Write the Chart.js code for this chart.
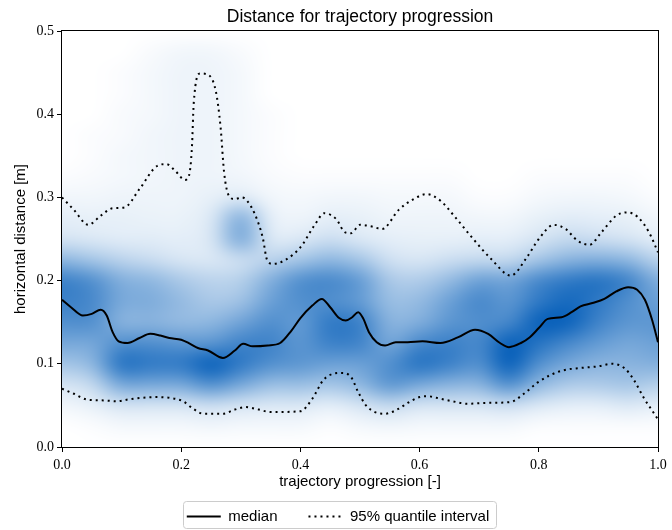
<!DOCTYPE html>
<html>
<head>
<meta charset="utf-8">
<script src="https://cdn.jsdelivr.net/npm/chart.js@4.4.1/dist/chart.umd.min.js"></script>
<style>
  html, body { margin: 0; padding: 0; background: #fff; overflow: hidden; }
  canvas { display: block; }
</style>
</head>
<body>
<canvas id="chart" width="672" height="530"></canvas>
<script>
const xTicks = [0, 0.2, 0.4, 0.6, 0.8, 1.0];
const yTicks = [0, 0.1, 0.2, 0.3, 0.4, 0.5];

// median
const medianX = [0, 0.015, 0.035, 0.05, 0.065, 0.075, 0.085, 0.095, 0.11, 0.13, 0.148, 0.165, 0.18, 0.2, 0.215, 0.228, 0.245, 0.27, 0.29, 0.304, 0.32, 0.345, 0.366, 0.385, 0.4, 0.42, 0.436, 0.45, 0.465, 0.476, 0.487, 0.497, 0.505, 0.515, 0.528, 0.542, 0.56, 0.58, 0.605, 0.635, 0.665, 0.693, 0.715, 0.735, 0.75, 0.77, 0.785, 0.8, 0.815, 0.838, 0.855, 0.87, 0.89, 0.91, 0.93, 0.95, 0.965, 0.978, 0.99, 1.0];
const medianY = [0.177, 0.168, 0.158, 0.16, 0.165, 0.158, 0.138, 0.127, 0.125, 0.131, 0.136, 0.134, 0.131, 0.129, 0.124, 0.119, 0.116, 0.107, 0.116, 0.124, 0.121, 0.122, 0.125, 0.14, 0.155, 0.17, 0.178, 0.168, 0.155, 0.152, 0.156, 0.162, 0.155, 0.138, 0.126, 0.122, 0.126, 0.126, 0.127, 0.125, 0.132, 0.141, 0.136, 0.125, 0.12, 0.125, 0.132, 0.143, 0.154, 0.156, 0.162, 0.169, 0.173, 0.178, 0.187, 0.192, 0.189, 0.177, 0.153, 0.126];

// 95% quantile, upper bound
const upperX = [0, 0.02, 0.044, 0.065, 0.085, 0.105, 0.13, 0.16, 0.175, 0.19, 0.206, 0.213, 0.218, 0.221, 0.232, 0.243, 0.258, 0.266, 0.272, 0.28, 0.29, 0.302, 0.318, 0.33, 0.337, 0.344, 0.354, 0.375, 0.4, 0.425, 0.44, 0.46, 0.475, 0.485, 0.5, 0.52, 0.537, 0.565, 0.59, 0.612, 0.635, 0.66, 0.69, 0.72, 0.753, 0.78, 0.8, 0.825, 0.845, 0.865, 0.885, 0.905, 0.93, 0.948, 0.965, 0.985, 1.0];
const upperY = [0.3, 0.285, 0.267, 0.278, 0.287, 0.288, 0.31, 0.338, 0.34, 0.332, 0.321, 0.326, 0.36, 0.413, 0.449, 0.448, 0.428, 0.385, 0.33, 0.302, 0.298, 0.3, 0.288, 0.268, 0.251, 0.225, 0.22, 0.225, 0.24, 0.268, 0.281, 0.274, 0.258, 0.257, 0.267, 0.265, 0.262, 0.285, 0.298, 0.304, 0.296, 0.276, 0.25, 0.226, 0.206, 0.228, 0.25, 0.267, 0.262, 0.248, 0.243, 0.258, 0.278, 0.282, 0.277, 0.258, 0.234];

// 95% quantile, lower bound
const lowerX = [0, 0.02, 0.042, 0.07, 0.092, 0.11, 0.131, 0.16, 0.181, 0.203, 0.22, 0.237, 0.27, 0.29, 0.308, 0.33, 0.35, 0.4, 0.42, 0.438, 0.455, 0.47, 0.485, 0.497, 0.51, 0.525, 0.542, 0.565, 0.58, 0.6, 0.614, 0.635, 0.655, 0.68, 0.71, 0.752, 0.775, 0.797, 0.818, 0.84, 0.87, 0.9, 0.922, 0.945, 0.96, 0.977, 0.99, 1.0];
const lowerY = [0.07, 0.064, 0.057, 0.056, 0.055, 0.057, 0.059, 0.06, 0.059, 0.055, 0.046, 0.04, 0.04, 0.045, 0.048, 0.045, 0.042, 0.043, 0.058, 0.08, 0.088, 0.089, 0.084, 0.066, 0.05, 0.042, 0.04, 0.046, 0.053, 0.06, 0.061, 0.058, 0.055, 0.052, 0.053, 0.054, 0.064, 0.077, 0.086, 0.092, 0.095, 0.097, 0.1, 0.094, 0.08, 0.058, 0.044, 0.033];

// density of all trajectories (percent), columns = densityX, rows = densityY (top to bottom)
const densityX = [0, 0.05, 0.1, 0.15, 0.2, 0.25, 0.3, 0.35, 0.4, 0.45, 0.5, 0.55, 0.6, 0.65, 0.7, 0.75, 0.8, 0.85, 0.9, 0.95, 1.0];
const densityY = [0.5, 0.475, 0.45, 0.425, 0.4, 0.375, 0.35, 0.325, 0.3, 0.275, 0.25, 0.225, 0.2, 0.175, 0.15, 0.125, 0.1, 0.075, 0.05, 0.025, 0];
const density = [
  [0, 0, 0, 0, 0, 0, 0, 0, 0, 0, 0, 0, 0, 0, 0, 0, 0, 0, 0, 0, 0],
  [0, 0, 0, 2, 4, 4, 2, 0, 0, 0, 0, 0, 0, 0, 0, 0, 0, 0, 0, 0, 0],
  [0, 0, 1, 3, 5, 5, 3, 0, 0, 0, 0, 0, 0, 0, 0, 0, 0, 0, 0, 0, 0],
  [0, 0, 1, 3, 5, 5, 3, 0, 0, 0, 0, 0, 0, 0, 0, 0, 0, 0, 0, 0, 0],
  [0, 0, 2, 3, 5, 5, 3, 1, 0, 0, 0, 0, 0, 0, 0, 0, 0, 0, 0, 0, 0],
  [0, 1, 2, 4, 5, 5, 3, 1, 0, 0, 0, 0, 0, 0, 0, 0, 0, 0, 0, 0, 0],
  [0, 1, 3, 4, 5, 5, 3, 1, 0, 0, 0, 0, 0, 0, 0, 0, 0, 0, 0, 0, 0],
  [1, 2, 3, 4, 5, 5, 4, 2, 1, 1, 1, 1, 1, 1, 0, 0, 1, 1, 1, 1, 0],
  [4, 4, 5, 5, 5, 7, 10, 4, 3, 4, 4, 3, 3, 3, 1, 1, 3, 4, 4, 3, 1],
  [8, 7, 7, 6, 6, 11, 42, 8, 5, 8, 7, 5, 5, 5, 4, 4, 7, 9, 8, 7, 4],
  [13, 11, 9, 9, 8, 12, 45, 11, 11, 16, 11, 8, 7, 7, 8, 8, 13, 19, 16, 13, 8],
  [38, 30, 22, 17, 12, 11, 16, 22, 30, 38, 30, 15, 12, 16, 19, 19, 30, 40, 43, 38, 22],
  [70, 61, 43, 38, 28, 22, 24, 43, 61, 65, 54, 28, 26, 36, 51, 49, 65, 74, 78, 68, 43],
  [70, 65, 46, 44, 36, 28, 32, 51, 61, 61, 54, 34, 36, 51, 65, 57, 74, 84, 74, 61, 51],
  [61, 61, 40, 40, 36, 38, 49, 61, 54, 74, 70, 40, 43, 57, 61, 65, 92, 88, 68, 57, 57],
  [47, 47, 61, 61, 57, 57, 68, 68, 57, 70, 68, 47, 65, 70, 65, 92, 78, 65, 54, 47, 51],
  [30, 38, 78, 74, 74, 92, 74, 61, 57, 51, 51, 61, 78, 70, 61, 97, 61, 47, 40, 40, 43],
  [13, 19, 47, 47, 47, 61, 47, 34, 34, 30, 38, 57, 47, 40, 40, 61, 38, 27, 27, 30, 24],
  [4, 7, 13, 13, 13, 16, 13, 11, 11, 8, 13, 19, 13, 13, 13, 16, 11, 8, 8, 11, 8],
  [0, 1, 3, 3, 3, 4, 3, 3, 3, 1, 3, 4, 3, 3, 3, 3, 1, 1, 1, 1, 1],
  [0, 0, 0, 0, 0, 0, 0, 0, 0, 0, 0, 0, 0, 0, 0, 0, 0, 0, 0, 0, 0]
];

// white -> saturated blue
const lowColor = [255, 255, 255];
const highColor = [8, 96, 186];

function densityColor(v) {
  const t = Math.pow(Math.max(0, Math.min(1, v * 1.12)), 0.92);
  return lowColor.map((c, k) => Math.round(c + (highColor[k] - c) * t));
}

const heatmap = {
  id: "heatmap",
  beforeDatasetsDraw(chart) {
    const { ctx, chartArea, scales } = chart;
    const cols = densityX.length;
    const rows = densityY.length;

    const img = document.createElement("canvas");
    img.width = cols;
    img.height = rows;
    const ictx = img.getContext("2d");
    const pix = ictx.createImageData(cols, rows);
    for (let r = 0; r < rows; r++) {
      for (let c = 0; c < cols; c++) {
        const rgb = densityColor(density[r][c] / 100);
        const k = (r * cols + c) * 4;
        pix.data[k] = rgb[0];
        pix.data[k + 1] = rgb[1];
        pix.data[k + 2] = rgb[2];
        pix.data[k + 3] = 255;
      }
    }
    ictx.putImageData(pix, 0, 0);

    const dx = densityX[1] - densityX[0];
    const dy = densityY[0] - densityY[1];
    const left = scales.x.getPixelForValue(densityX[0] - dx / 2);
    const right = scales.x.getPixelForValue(densityX[cols - 1] + dx / 2);
    const top = scales.y.getPixelForValue(densityY[0] + dy / 2);
    const bottom = scales.y.getPixelForValue(densityY[rows - 1] - dy / 2);

    ctx.save();
    ctx.beginPath();
    ctx.rect(chartArea.left, chartArea.top, chartArea.width, chartArea.height);
    ctx.clip();
    ctx.imageSmoothingEnabled = true;
    ctx.imageSmoothingQuality = "high";
    ctx.filter = "blur(4px)";
    ctx.drawImage(img, left, top, right - left, bottom - top);
    ctx.restore();
  },
  afterDatasetsDraw(chart) {
    const { ctx, chartArea } = chart;
    ctx.save();
    ctx.strokeStyle = "#000";
    ctx.lineWidth = 1;
    ctx.strokeRect(chartArea.left - 0.5, chartArea.top - 0.5, chartArea.width + 1, chartArea.height + 1);
    ctx.restore();
  },
  afterDraw(chart) {
    // legend frame
    const boxes = chart.legend.legendHitBoxes;
    if (!boxes || !boxes.length) return;
    const last = boxes[boxes.length - 1];
    const x0 = boxes[0].left - 4;
    const x1 = last.left + last.width + 7;
    const mid = boxes[0].top + boxes[0].height / 2;
    const y0 = mid - 16;
    const y1 = mid + 11;
    const { ctx } = chart;
    ctx.save();
    ctx.strokeStyle = "#cccccc";
    ctx.lineWidth = 1;
    ctx.beginPath();
    ctx.roundRect(Math.round(x0) + 0.5, Math.round(y0) + 0.5, Math.round(x1 - x0), Math.round(y1 - y0), 3);
    ctx.stroke();
    ctx.restore();
  }
};

const toPoints = (xs, ys) => xs.map((x, i) => ({ x: x, y: ys[i] }));

const lineStyle = {
  showLine: true,
  pointRadius: 0,
  borderWidth: 2,
  borderColor: "#000",
  backgroundColor: "#000",
  cubicInterpolationMode: "monotone",
  fill: false,
};

const ctx = document.getElementById("chart").getContext("2d");

new Chart(ctx, {
  type: "scatter",
  data: {
    datasets: [
      { ...lineStyle, label: "median", data: toPoints(medianX, medianY) },
      { ...lineStyle, label: "95% quantile interval", data: toPoints(upperX, upperY), borderDash: [2, 4] },
      { ...lineStyle, label: "lower", data: toPoints(lowerX, lowerY), borderDash: [2, 4] },
    ],
  },
  options: {
    responsive: false,
    animation: false,
    layout: { padding: { left: 18, right: 14, top: 0, bottom: -4 } },
    plugins: {
      title: {
        display: true,
        fullSize: false,
        text: "Distance for trajectory progression",
        color: "#000",
        font: { family: "Liberation Sans", size: 17.5, weight: "normal" },
        padding: { top: 6.5, bottom: 3.5 },
      },
      legend: {
        position: "bottom",
        labels: {
          usePointStyle: true,
          pointStyle: "line",
          pointStyleWidth: 34,
          color: "#000",
          font: { family: "Liberation Sans", size: 15 },
          padding: 31,
          filter: (item) => item.datasetIndex !== 2,
          generateLabels: (chart) =>
            Chart.defaults.plugins.legend.labels.generateLabels(chart).map((item) => {
              const ds = chart.data.datasets[item.datasetIndex];
              item.lineDash = ds.borderDash || [];
              item.lineWidth = 2;
              item.strokeStyle = "#000";
              return item;
            }),
        },
      },
      tooltip: { enabled: false },
    },
    scales: {
      x: {
        type: "linear",
        min: 0,
        max: 1,
        afterBuildTicks: (s) => { s.ticks = xTicks.map((v) => ({ value: v })); },
        afterFit: (s) => { s.height = 31; },
        ticks: {
          callback: (v) => v.toFixed(1),
          color: "#000",
          font: { family: "Liberation Serif", size: 14 },
          padding: 5,
          maxRotation: 0,
          autoSkip: false,
        },
        grid: { drawOnChartArea: false, tickLength: 5, color: "#000" },
        border: { display: false },
        title: {
          display: true,
          text: "trajectory progression [-]",
          color: "#000",
          font: { family: "Liberation Sans", size: 15 },
          padding: { top: 0, bottom: -12.5 },
        },
      },
      y: {
        type: "linear",
        min: 0,
        max: 0.5,
        afterBuildTicks: (s) => { s.ticks = yTicks.map((v) => ({ value: v })); },
        afterFit: (s) => { s.width = 44; },
        ticks: {
          callback: (v) => v.toFixed(1),
          color: "#000",
          font: { family: "Liberation Serif", size: 14 },
          padding: 3,
          autoSkip: false,
        },
        grid: { drawOnChartArea: false, tickLength: 5, color: "#000" },
        border: { display: false },
        title: {
          display: true,
          text: "horizontal distance [m]",
          color: "#000",
          font: { family: "Liberation Sans", size: 15 },
          padding: { top: -6, bottom: 0 },
        },
      },
    },
  },
  plugins: [heatmap],
});
</script>
</body>
</html>
